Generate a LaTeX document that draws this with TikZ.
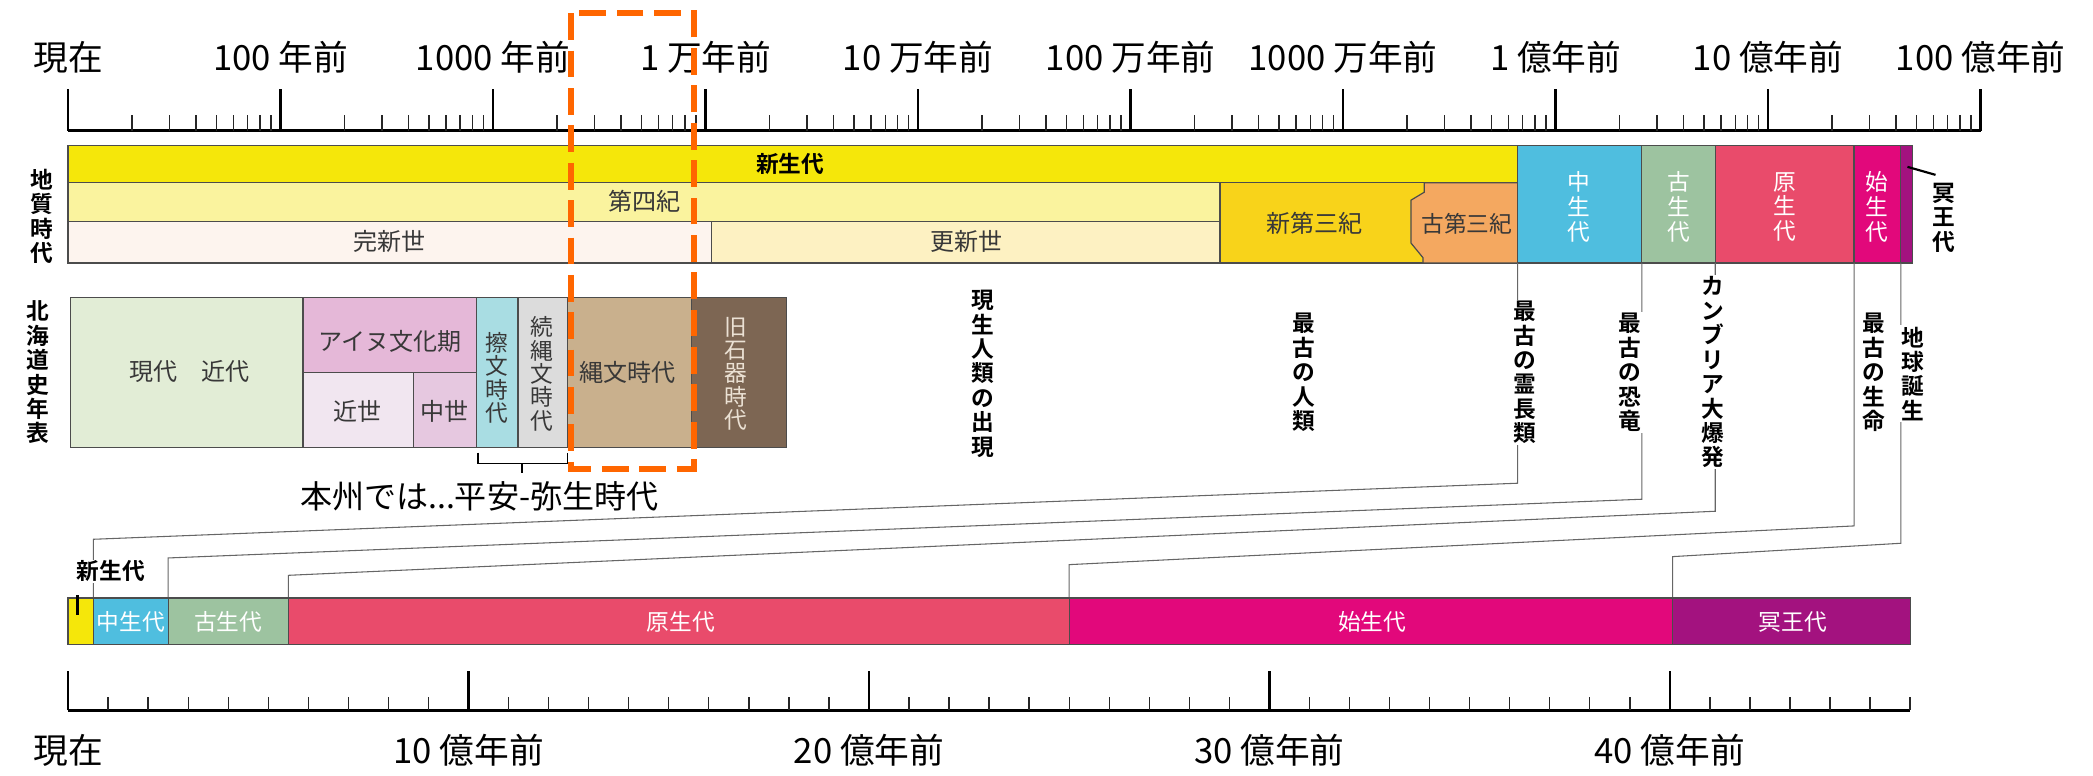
\documentclass[tikz,border=0pt]{standalone}
\usepackage{fontspec}
\newfontfamily\jp{Noto Sans CJK JP}
\newfontfamily\jpb{Noto Sans CJK JP Bold}
\definecolor{cenoz}{RGB}{245,231,10}
\definecolor{quat}{RGB}{250,243,158}
\definecolor{holo}{RGB}{253,244,238}
\definecolor{pleis}{RGB}{253,241,194}
\definecolor{neog}{RGB}{248,211,26}
\definecolor{paleog}{RGB}{244,168,96}
\definecolor{meso}{RGB}{79,190,223}
\definecolor{paleoz}{RGB}{157,195,160}
\definecolor{protero}{RGB}{233,75,107}
\definecolor{arch}{RGB}{226,8,123}
\definecolor{hade}{RGB}{163,18,127}
\definecolor{kgen}{RGB}{226,237,214}
\definecolor{ainu}{RGB}{229,184,216}
\definecolor{kinsei}{RGB}{241,230,240}
\definecolor{chusei}{RGB}{230,200,224}
\definecolor{satsu}{RGB}{169,221,227}
\definecolor{zoku}{RGB}{220,220,220}
\definecolor{jomon}{RGB}{201,176,141}
\definecolor{kyuseki}{RGB}{125,102,83}
\definecolor{hlorange}{RGB}{255,102,0}
\begin{document}
\begin{tikzpicture}[x=1pt,y=-1pt,
  ax/.style={line width=2.4pt, black},
  mtick/.style={line width=2pt, black},
  stick/.style={line width=1pt, black!85},
  seg/.style={draw=black!70, line width=0.9pt},
  big/.style={font=\jp\fontsize{26}{26}\selectfont, inner sep=0pt},
  lbl/.style={font=\jp\fontsize{18}{18}\selectfont, text=black!78, inner sep=0pt},
  wlbl/.style={font=\jp\fontsize{17}{18.5}\selectfont, text=white, inner sep=0pt, align=center},
  vlab/.style={font=\jpb\fontsize{17}{18.3}\selectfont, align=center, inner sep=1pt, fill=white},
  conn/.style={draw=black!60, line width=0.8pt},
]
\useasboundingbox (0,0) rectangle (1568,581);

% ---------- top logarithmic axis ----------
\draw[ax] (51,98) -- (1484,98);
\foreach \k in {0,...,9} \draw[mtick] ({51+159.2*\k},98) -- ++(0,-31);
\foreach \k in {0,...,8} \foreach \m in {2,...,9}
  \draw[stick] ({51+159.2*(\k+log10(\m))},98) -- ++(0,-12);
\foreach \t [count=\i from 0] in {現在,100 年前,1000 年前,1 万年前,10 万年前,100 万年前,1000 万年前,1 億年前,10 億年前,100 億年前}
  \node[big] (top\i) at ({51+159.2*\i},43) {\t};

% ---------- geological time bars ----------
\filldraw[seg, fill=cenoz] (51,109) rectangle (1137,137);
\filldraw[seg, fill=quat] (51,137) rectangle (914,166);
\filldraw[seg, fill=holo] (51,166) rectangle (533,197);
\filldraw[seg, fill=pleis] (533,166) rectangle (914,197);
\filldraw[seg, fill=neog] (914,137) rectangle (1137,197);
\filldraw[seg, fill=paleog] (1067,137) -- (1137,137) -- (1137,197) -- (1066,197) -- (1066,193) -- (1057,182) -- (1057,150) -- (1067,144) -- cycle;
\filldraw[seg, fill=meso] (1137,109) rectangle (1230,197);
\filldraw[seg, fill=paleoz] (1230,109) rectangle (1285,197);
\filldraw[seg, fill=protero] (1285,109) rectangle (1389,197);
\filldraw[seg, fill=arch] (1389,109) rectangle (1424,197);
\filldraw[seg, fill=hade] (1424,109) rectangle (1433,197);

\node[lbl, font=\jpb\fontsize{17}{17}\selectfont, text=black] (shinsei) at (592,123) {新生代};
\node[lbl] (daiyon) at (483,151) {第四紀};
\node[lbl] (kanshin) at (292,181) {完新世};
\node[lbl] (koshin) at (724,181) {更新世};
\node[lbl] (shindai3) at (985,167) {新第三紀};
\node[lbl, font=\jp\fontsize{17}{17}\selectfont] (kodai3) at (1099,168) {古第三紀};
\node[wlbl] (chu) at (1183,155) {中\\生\\代};
\node[wlbl] (ko) at (1258,155) {古\\生\\代};
\node[wlbl] (gen) at (1337,155) {原\\生\\代};
\node[wlbl] (shi) at (1406,155) {始\\生\\代};
\node[vlab, fill=none] (meio) at (1456,163) {冥\\王\\代};
\coordinate (meioA) at (1429,125);
\draw[line width=1.6pt] (meioA) -- (1450,131);

\node[vlab, fill=none] (chishitsu) at (31,162) {地\\質\\時\\代};
\node[vlab, fill=none] (hokkaido) at (28,279) {北\\海\\道\\史\\年\\表};

% ---------- Hokkaido chronology ----------
\filldraw[seg, fill=kgen] (53,223) rectangle (227,335);
\filldraw[seg, fill=ainu] (227,223) rectangle (357,279);
\filldraw[seg, fill=kinsei] (227,279) rectangle (310,335);
\filldraw[seg, fill=chusei] (310,279) rectangle (357,335);
\filldraw[seg, fill=satsu] (357,223) rectangle (388,335);
\filldraw[seg, fill=zoku] (388,223) rectangle (425,335);
\filldraw[seg, fill=jomon] (425,223) rectangle (518,335);
\filldraw[seg, fill=kyuseki] (518,223) rectangle (589,335);
\draw[black!70, line width=1pt, dashed] (518,223) -- (518,335);

\node[lbl] (gendai) at (142,278) {現代　近代};
\node[lbl] (ainulbl) at (292,256) {アイヌ文化期};
\node[lbl] (kinseilbl) at (268,308) {近世};
\node[lbl] (chuseilbl) at (333,308) {中世};
\node[lbl, align=center, font=\jp\fontsize{17}{17.5}\selectfont] (satsulbl) at (372,283) {擦\\文\\時\\代};
\node[lbl, align=center, font=\jp\fontsize{17}{17.5}\selectfont] (zokulbl) at (406,280) {続\\縄\\文\\時\\代};
\node[lbl] (jomonlbl) at (470,279) {縄文時代};
\node[lbl, align=center, text={rgb,255:red,235;green,225;blue,212}, font=\jp\fontsize{17}{17.5}\selectfont] (kyusekilbl) at (551,280) {旧\\石\\器\\時\\代};

\draw[line width=1pt] (358,339) -- (358,347) -- (425,347) -- (425,339);
\coordinate (brk) at (391,347);
\draw[line width=1pt] (brk) -- ++(0,7);
\node[big, font=\jp\fontsize{24}{24}\selectfont] (honshu) at (359,372) {本州では...平安-弥生時代};

% ---------- connectors ----------
\coordinate (u1) at (1137,197); \coordinate (m1) at (1137,362); \coordinate (n1) at (70,404); \coordinate (d1) at (70,448);
\coordinate (u2) at (1230,197); \coordinate (m2) at (1230,374); \coordinate (n2) at (126,418); \coordinate (d2) at (126,448);
\coordinate (u3) at (1285,197); \coordinate (m3) at (1285,383); \coordinate (n3) at (216,431); \coordinate (d3) at (216,448);
\coordinate (u4) at (1389,197); \coordinate (m4) at (1389,394); \coordinate (n4) at (801,423); \coordinate (d4) at (801,448);
\coordinate (u5) at (1424,197); \coordinate (m5) at (1424,407); \coordinate (n5) at (1253,417); \coordinate (d5) at (1253,448);
\foreach \i in {1,...,5} \draw[conn] (u\i) -- (m\i) -- (n\i) -- (d\i);

\node[vlab] (gensei) at (736,280) {現\\生\\人\\類\\の\\出\\現};
\node[vlab] (jinrui) at (977,279) {最\\古\\の\\人\\類};
\node[vlab] (reicho) at (1142,279) {最\\古\\の\\霊\\長\\類};
\node[vlab] (kyoryu) at (1221,279) {最\\古\\の\\恐\\竜};
\node[vlab] (cambria) at (1283,279) {カ\\ン\\ブ\\リ\\ア\\大\\爆\\発};
\node[vlab] (seimei) at (1404,279) {最\\古\\の\\生\\命};
\node[vlab] (tanjo) at (1433,280) {地\\球\\誕\\生};

% ---------- lower linear bar ----------
\filldraw[seg, fill=cenoz] (51,448) rectangle (70,483);
\filldraw[seg, fill=meso] (70,448) rectangle (126,483);
\filldraw[seg, fill=paleoz] (126,448) rectangle (216,483);
\filldraw[seg, fill=protero] (216,448) rectangle (801,483);
\filldraw[seg, fill=arch] (801,448) rectangle (1253,483);
\filldraw[seg, fill=hade] (1253,448) rectangle (1431,483);
\node[vlab, fill=white, inner sep=0.5pt] (shinseiL) at (83,428) {新生代};
\coordinate (tickA) at (58,446);
\draw[line width=2.6pt] (tickA) -- ++(0,15);
\node[wlbl] (chuL) at (98,466) {中生代};
\node[wlbl] (koL) at (171,466) {古生代};
\node[wlbl] (genL) at (510,466) {原生代};
\node[wlbl] (shiL) at (1028,466) {始生代};
\node[wlbl] (meioL) at (1343,466) {冥王代};

% ---------- lower linear axis ----------
\draw[ax] (51,532) -- (1431,532);
\foreach \i in {0,...,46} \draw[stick] ({51+30*\i},532) -- ++(0,-10);
\foreach \i in {0,...,4} \draw[mtick] ({51+300*\i},532) -- ++(0,-29);
\foreach \t [count=\i from 0] in {現在,10 億年前,20 億年前,30 億年前,40 億年前}
  \node[big] (bot\i) at ({51+300*\i},562) {\t};

% ---------- highlight box ----------
\draw[hlorange, line width=4.5pt, dash pattern=on 20pt off 8pt] (428,10) rectangle (520,351);
\end{tikzpicture}
\end{document}
